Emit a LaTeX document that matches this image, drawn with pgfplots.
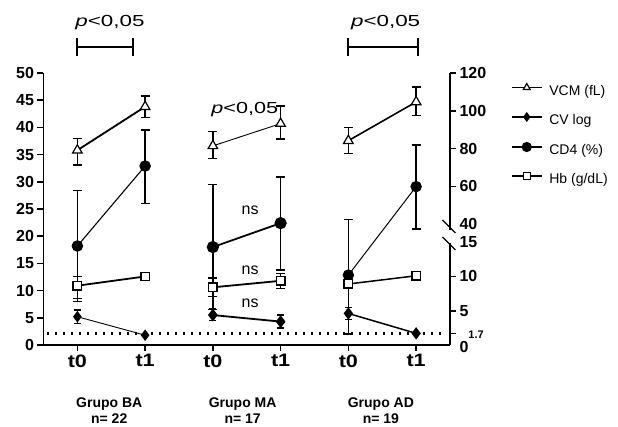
\documentclass[border=0pt]{standalone}
\usepackage{fontspec}
\setmainfont{Liberation Sans}
\usepackage{graphicx}
\usepackage{pgfplots}
\usepackage{pgfplotstable}
\pgfplotsset{compat=1.18}

% columns: value, error plus, error minus
\pgfplotstableread{
x vcm vcmp vcmm cv cvp cvm cd cdp cdm hb hbp hbm
0 35.8 2.2 2.7 5.2 1.2 1.2 18.2 10.2 10.2 10.9 1.7 2.3
1 43.8 2.0 2.0 1.8 0 0 32.9 6.6 6.9 12.6 0.7 0.7
}\ba
\pgfplotstableread{
x vcm vcmp vcmm cv cvp cvm cd cdp cdm hb hbp hbm
2 36.6 2.6 2.3 5.5 1.1 1.0 18.0 11.5 11.5 10.6 1.7 1.7
3 40.7 3.2 2.8 4.3 1.2 1.2 22.4 8.5 8.6 11.8 1.3 1.4
}\ma
% grupo AD is read on the right (broken) axis
\pgfplotstableread{
x vcm cv cd hb
4 84.2 4.6 10.2 8.9
5 104.7 1.7 59.9 10.1
}\ad

\pgfplotsset{
  ebars/.style={/pgfplots/error bars/y dir=both, /pgfplots/error bars/y explicit,
    /pgfplots/error bars/error bar style={line width=1.4pt, solid},
    /pgfplots/error bars/error mark options={rotate=90, mark size=#1, line width=1.4pt}},
  ebars/.default=4.5pt,
  ebar/.style={black, line width=1.4pt, mark=-, mark size=#1, mark options={line width=1.4pt}},
  ebar/.default=4.5pt,
  vcm/.style={black, mark=triangle*, mark size=5.5pt, mark options={fill=white, line width=1.2pt, solid}},
  cvl/.style={black, mark=diamond*, mark size=5pt, mark options={solid}},
  cd4/.style={black, mark=*, mark size=5.2pt, mark options={solid}},
  hbs/.style={black, mark=square*, mark size=4.2pt, mark options={fill=white, line width=1.4pt, solid}},
  common/.style={
    scale only axis, width=406.5pt, height=272pt,
    xmin=-0.5, xmax=5.5, ymin=0,
    tick align=outside, major tick length=6pt,
    axis line style={line width=1.6pt},
    tick style={line width=1.6pt, black},
    /pgf/number format/assume math mode=true,
    yticklabel style={font=\bfseries\fontsize{16}{16}\selectfont},
    clip=false,
  },
}
\newcommand{\tl}[1]{\scalebox{1.2}[1]{#1}}

\begin{document}
\begin{tikzpicture}
\begin{axis}[common,
  ymax=50,
  axis x line*=bottom, axis y line*=left,
  xtick={0,1,2,3,4,5}, xticklabels={\tl{t0},\tl{t1},\tl{t0},\tl{t1},\tl{t0},\tl{t1}},
  xticklabel style={font=\bfseries\fontsize{18}{18}\selectfont},
  ytick={0,5,...,50},
  legend style={at={(axis cs:6.4,48.1)}, anchor=north west, draw=none, fill=none,
    inner sep=0pt, row sep=15pt, font=\fontsize{14}{14}\selectfont, cells={anchor=west},
    nodes={inner xsep=7pt, inner ysep=0pt, text height=10pt, text depth=3pt}},
  legend image code/.code={\draw[mark repeat=2,mark phase=2,#1] plot coordinates {(0pt,4pt) (15pt,4pt) (30pt,4pt)};},
]
\addlegendimage{vcm, line width=1.2pt, mark size=4pt}
\addlegendentry{VCM (fL)}
\addlegendimage{cvl, line width=1.2pt, mark size=4pt}
\addlegendentry{CV log}
\addlegendimage{cd4, line width=1.2pt, mark size=4.5pt}
\addlegendentry{CD4 (\%)}
\addlegendimage{hbs, line width=1.2pt, mark size=3.5pt, mark options={fill=white, line width=1pt}}
\addlegendentry{Hb (g/dL)}

% Grupo BA
\addplot[vcm, line width=1.8pt, ebars] table[x=x, y=vcm, y error plus=vcmp, y error minus=vcmm] {\ba};
\addplot[cd4, line width=1.1pt, ebars] table[x=x, y=cd, y error plus=cdp, y error minus=cdm] {\ba};
\addplot[hbs, line width=1.8pt, ebars] table[x=x, y=hb, y error plus=hbp, y error minus=hbm] {\ba};
\addplot[cvl, line width=0.9pt, ebars=3.5pt] table[x=x, y=cv, y error plus=cvp, y error minus=cvm] {\ba};
% Grupo MA
\addplot[vcm, line width=0.9pt, ebars] table[x=x, y=vcm, y error plus=vcmp, y error minus=vcmm] {\ma};
\addplot[cd4, line width=1.8pt, ebars] table[x=x, y=cd, y error plus=cdp, y error minus=cdm] {\ma};
\addplot[hbs, line width=1.8pt, ebars] table[x=x, y=hb, y error plus=hbp, y error minus=hbm] {\ma};
\addplot[cvl, line width=1.8pt, ebars=3.5pt] table[x=x, y=cv, y error plus=cvp, y error minus=cvm] {\ma};

% brackets and labels
\draw[line width=2.2pt] (axis cs:0,54.8) -- (axis cs:0.82,54.8);
\draw[line width=2.2pt] (axis cs:0,53.1) -- (axis cs:0,56.5);
\draw[line width=2.2pt] (axis cs:0.82,53.1) -- (axis cs:0.82,56.5);
\draw[line width=2.2pt] (axis cs:4,54.8) -- (axis cs:5.03,54.8);
\draw[line width=2.2pt] (axis cs:4,53.1) -- (axis cs:4,56.5);
\draw[line width=2.2pt] (axis cs:5.03,53.1) -- (axis cs:5.03,56.5);
\node[font=\fontsize{16}{16}\selectfont] at (axis cs:0.48,59.2) {\scalebox{1.4}[1]{\textit{p}<0,05}};
\node[font=\fontsize{16}{16}\selectfont] at (axis cs:4.55,59.2) {\scalebox{1.4}[1]{\textit{p}<0,05}};
\node[font=\fontsize{16}{16}\selectfont] at (axis cs:2.47,43.2) {\scalebox{1.35}[1]{\textit{p}<0,05}};
\node[font=\fontsize{16}{16}\selectfont] at (axis cs:2.55,24.8) {ns};
\node[font=\fontsize{16}{16}\selectfont] at (axis cs:2.55,13.8) {ns};
\node[font=\fontsize{16}{16}\selectfont] at (axis cs:2.55,7.7) {ns};
\node[font=\bfseries\fontsize{14}{16}\selectfont, align=center] at (axis cs:0.47,-12.0) {Grupo BA\\n= 22};
\node[font=\bfseries\fontsize{14}{16}\selectfont, align=center] at (axis cs:2.44,-12.0) {Grupo MA\\n= 17};
\node[font=\bfseries\fontsize{14}{16}\selectfont, align=center] at (axis cs:4.48,-12.0) {Grupo AD\\n= 19};
\end{axis}

\begin{axis}[common,
  ymax=120,
  y coord trafo/.code={\pgfmathparse{(#1<=15)*(1.26*#1) + (#1>15)*(#1<=40)*(18.9+0.132*(#1-15)) + (#1>40)*(22.2+0.3475*(#1-40))}},
  y coord inv trafo/.code={\pgfmathparse{(#1<=18.9)*(#1/1.26) + (#1>18.9)*(#1<=22.2)*(15+(#1-18.9)/0.132) + (#1>22.2)*(40+(#1-22.2)/0.3475)}},
  axis x line=none, axis y line*=right,
  ytick={1.7,5,10,60,80,100,120},
  yticklabels={{\smash{\raisebox{-19pt}{0}\raisebox{-5pt}{\fontsize{11}{11}\selectfont 1.7}}},5,10,60,80,100,120},
  extra y ticks={15,40}, extra y tick labels={15,40},
  extra y tick style={major tick length=0pt, yticklabel style={xshift=6pt}},
]
\addplot[black, line width=2.5pt, dash pattern=on 2.5pt off 5.5pt] coordinates {(-0.45,1.7) (5.45,1.7)};
% Grupo AD: error bars (low, high) drawn on the broken scale
\addplot[ebar] coordinates {(4,77.4) (4,91.2)};
\addplot[ebar] coordinates {(5,97.6) (5,112.5)};
\addplot[ebar] coordinates {(4,1.6) (4,42.6)};
\addplot[ebar] coordinates {(5,33.2) (5,82.0)};
\addplot[ebar] coordinates {(4,8.3) (4,9.5)};
\addplot[ebar] coordinates {(5,9.6) (5,10.6)};
\addplot[ebar=3.5pt] coordinates {(4,3.7) (4,5.5)};
\addplot[vcm, line width=1.6pt] table[x=x, y=vcm] {\ad};
\addplot[cd4, line width=1.0pt] table[x=x, y=cd] {\ad};
\addplot[hbs, line width=1.5pt] table[x=x, y=hb] {\ad};
\addplot[cvl, line width=1.5pt] table[x=x, y=cv] {\ad};
\end{axis}

% axis break on the right axis
\fill[white] (400pt,102pt) rectangle (413pt,115pt);
\draw[line width=1.3pt] (399pt,125pt) -- (412pt,112pt);
\draw[line width=1.3pt] (399pt,108pt) -- (412pt,95pt);

\pgfresetboundingbox
\useasboundingbox (-43.5pt,-82pt) rectangle (574.5pt,345pt);
\end{tikzpicture}
\end{document}
